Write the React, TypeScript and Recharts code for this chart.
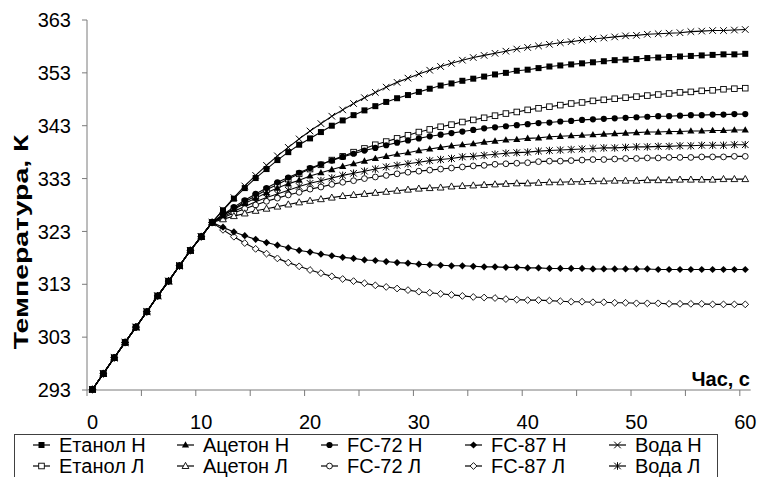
import React from 'react';
import { LineChart, Line, XAxis, YAxis } from 'recharts';

// seconds on the category axis
const seconds = [
  0, 1, 2, 3, 4, 5, 6, 7, 8, 9, 10, 11, 12, 13, 14, 15, 16, 17, 18, 19, 20,
  21, 22, 23, 24, 25, 26, 27, 28, 29, 30, 31, 32, 33, 34, 35, 36, 37, 38, 39, 40,
  41, 42, 43, 44, 45, 46, 47, 48, 49, 50, 51, 52, 53, 54, 55, 56, 57, 58, 59, 60,
];

// common heating part, t = 0..11
const rise = [293.1, 296.1, 299.1, 302.0, 304.9, 307.8, 310.8, 313.6, 316.5, 319.4, 322.0, 324.7];

// t = 12..60 for each fluid
const etanolN = [327.0, 329.2, 331.2, 333.1, 334.8, 336.5, 338.0, 339.4, 340.6, 341.8, 343.0, 344.0, 345.0, 345.9, 346.7, 347.5, 348.2, 348.8, 349.4, 350.0, 350.6, 351.0, 351.5, 351.9, 352.3, 352.7, 353.0, 353.4, 353.6, 353.9, 354.2, 354.4, 354.6, 354.8, 355.0, 355.2, 355.4, 355.5, 355.6, 355.8, 355.9, 356.0, 356.1, 356.2, 356.3, 356.4, 356.5, 356.5, 356.6];
const acetonN = [326.0, 327.2, 328.3, 329.3, 330.3, 331.2, 332.0, 332.7, 333.5, 334.1, 334.7, 335.3, 335.8, 336.3, 336.8, 337.2, 337.6, 337.9, 338.3, 338.6, 338.9, 339.2, 339.4, 339.6, 339.9, 340.1, 340.3, 340.4, 340.6, 340.7, 340.9, 341.0, 341.1, 341.2, 341.3, 341.4, 341.5, 341.6, 341.7, 341.8, 341.8, 341.9, 341.9, 342.0, 342.0, 342.1, 342.1, 342.2, 342.2];
const fc72N = [326.2, 327.6, 328.9, 330.1, 331.2, 332.3, 333.2, 334.1, 335.0, 335.7, 336.4, 337.1, 337.7, 338.3, 338.8, 339.3, 339.8, 340.2, 340.6, 341.0, 341.3, 341.6, 341.9, 342.2, 342.5, 342.7, 342.9, 343.1, 343.3, 343.5, 343.6, 343.8, 343.9, 344.1, 344.2, 344.3, 344.4, 344.5, 344.6, 344.7, 344.8, 344.8, 344.9, 345.0, 345.0, 345.1, 345.1, 345.2, 345.2];
const fc87N = [323.8, 322.9, 322.2, 321.5, 320.9, 320.4, 319.9, 319.4, 319.1, 318.7, 318.4, 318.1, 317.9, 317.6, 317.5, 317.3, 317.1, 317.0, 316.8, 316.7, 316.6, 316.5, 316.5, 316.4, 316.3, 316.3, 316.2, 316.2, 316.1, 316.1, 316.0, 316.0, 316.0, 316.0, 315.9, 315.9, 315.9, 315.9, 315.9, 315.9, 315.8, 315.8, 315.8, 315.8, 315.8, 315.8, 315.8, 315.8, 315.8];
const vodaN = [327.1, 329.4, 331.6, 333.6, 335.5, 337.3, 338.9, 340.5, 342.0, 343.4, 344.8, 346.0, 347.2, 348.3, 349.3, 350.3, 351.2, 352.0, 352.8, 353.5, 354.2, 354.8, 355.4, 355.9, 356.3, 356.7, 357.1, 357.5, 357.8, 358.1, 358.4, 358.7, 358.9, 359.2, 359.4, 359.6, 359.8, 360.0, 360.1, 360.3, 360.4, 360.5, 360.6, 360.8, 360.9, 361.0, 361.0, 361.1, 361.2];
const etanolL = [326.1, 327.3, 328.6, 329.7, 330.9, 331.9, 332.9, 333.9, 334.8, 335.6, 336.5, 337.2, 338.0, 338.7, 339.4, 340.0, 340.6, 341.2, 341.8, 342.3, 342.8, 343.2, 343.7, 344.1, 344.5, 344.9, 345.3, 345.6, 346.0, 346.3, 346.6, 346.9, 347.2, 347.4, 347.7, 347.9, 348.1, 348.3, 348.5, 348.7, 348.9, 349.1, 349.3, 349.4, 349.6, 349.7, 349.9, 350.0, 350.1];
const acetonL = [325.3, 325.9, 326.4, 326.9, 327.3, 327.7, 328.1, 328.5, 328.8, 329.1, 329.4, 329.7, 329.9, 330.1, 330.3, 330.5, 330.7, 330.9, 331.1, 331.2, 331.3, 331.5, 331.6, 331.7, 331.8, 331.9, 332.0, 332.1, 332.1, 332.2, 332.3, 332.3, 332.4, 332.4, 332.5, 332.5, 332.6, 332.6, 332.6, 332.7, 332.7, 332.7, 332.8, 332.8, 332.8, 332.8, 332.9, 332.9, 332.9];
const fc72L = [325.6, 326.5, 327.3, 328.0, 328.7, 329.3, 329.9, 330.4, 331.0, 331.4, 331.9, 332.3, 332.6, 333.0, 333.3, 333.6, 333.9, 334.2, 334.4, 334.6, 334.8, 335.0, 335.2, 335.4, 335.5, 335.7, 335.8, 335.9, 336.0, 336.2, 336.3, 336.3, 336.4, 336.5, 336.6, 336.6, 336.7, 336.8, 336.8, 336.9, 336.9, 337.0, 337.0, 337.0, 337.1, 337.1, 337.1, 337.2, 337.2];
const fc87L = [323.3, 322.0, 320.8, 319.7, 318.8, 317.9, 317.1, 316.4, 315.7, 315.1, 314.5, 314.0, 313.6, 313.2, 312.8, 312.5, 312.2, 311.9, 311.6, 311.4, 311.2, 311.0, 310.8, 310.6, 310.5, 310.4, 310.2, 310.1, 310.0, 310.0, 309.9, 309.8, 309.7, 309.7, 309.6, 309.6, 309.5, 309.5, 309.4, 309.4, 309.4, 309.3, 309.3, 309.3, 309.3, 309.2, 309.2, 309.2, 309.2];
const vodaL = [325.8, 326.8, 327.7, 328.6, 329.4, 330.1, 330.8, 331.5, 332.1, 332.6, 333.1, 333.6, 334.0, 334.4, 334.8, 335.2, 335.5, 335.8, 336.1, 336.4, 336.6, 336.8, 337.1, 337.2, 337.4, 337.6, 337.8, 337.9, 338.0, 338.2, 338.3, 338.4, 338.5, 338.6, 338.7, 338.8, 338.8, 338.9, 339.0, 339.0, 339.1, 339.1, 339.2, 339.2, 339.3, 339.3, 339.3, 339.4, 339.4];

const yTicks = [293, 303, 313, 323, 333, 343, 353, 363];
const xLabels = [0, 10, 20, 30, 40, 50, 60];
const xTickMarks = [-0.5, 4.5, 9.5, 14.5, 19.5, 24.5, 29.5, 34.5, 39.5, 44.5, 49.5, 54.5, 59.5];

// legend order (row by row)
const series = [
  { key: 'etanolN', name: 'Етанол Н', values: etanolN, shape: 'square' },
  { key: 'acetonN', name: 'Ацетон Н', values: acetonN, shape: 'triangle' },
  { key: 'fc72N', name: 'FC-72 Н', values: fc72N, shape: 'circle' },
  { key: 'fc87N', name: 'FC-87 Н', values: fc87N, shape: 'diamond' },
  { key: 'vodaN', name: 'Вода Н', values: vodaN, shape: 'cross' },
  { key: 'etanolL', name: 'Етанол Л', values: etanolL, shape: 'squareOpen' },
  { key: 'acetonL', name: 'Ацетон Л', values: acetonL, shape: 'triangleOpen' },
  { key: 'fc72L', name: 'FC-72 Л', values: fc72L, shape: 'circleOpen' },
  { key: 'fc87L', name: 'FC-87 Л', values: fc87L, shape: 'diamondOpen' },
  { key: 'vodaL', name: 'Вода Л', values: vodaL, shape: 'star' },
];

const rows = seconds.map((t, i) => {
  const row: Record<string, number> = { t };
  series.forEach((s) => {
    row[s.key] = i < rise.length ? rise[i] : s.values[i - rise.length];
  });
  return row;
});

const FONT = '"Liberation Sans", Arial, sans-serif';
const AXIS = '#7a7a7a';

const Marker = ({ cx, cy, shape }: { cx: number; cy: number; shape: string }) => {
  const sw = 0.9;
  switch (shape) {
    case 'square':
      return <rect x={cx - 3} y={cy - 3} width={6} height={6} fill="#000" />;
    case 'squareOpen':
      return <rect x={cx - 2.8} y={cy - 2.8} width={5.6} height={5.6} fill="#fff" stroke="#000" strokeWidth={sw} />;
    case 'triangle':
      return <polygon points={`${cx},${cy - 3.8} ${cx + 3.6},${cy + 2.6} ${cx - 3.6},${cy + 2.6}`} fill="#000" />;
    case 'triangleOpen':
      return <polygon points={`${cx},${cy - 3.6} ${cx + 3.4},${cy + 2.5} ${cx - 3.4},${cy + 2.5}`} fill="#fff" stroke="#000" strokeWidth={sw} />;
    case 'circle':
      return <circle cx={cx} cy={cy} r={3.1} fill="#000" />;
    case 'circleOpen':
      return <circle cx={cx} cy={cy} r={2.9} fill="#fff" stroke="#000" strokeWidth={sw} />;
    case 'diamond':
      return <polygon points={`${cx},${cy - 3.6} ${cx + 3.6},${cy} ${cx},${cy + 3.6} ${cx - 3.6},${cy}`} fill="#000" />;
    case 'diamondOpen':
      return <polygon points={`${cx},${cy - 3.4} ${cx + 3.4},${cy} ${cx},${cy + 3.4} ${cx - 3.4},${cy}`} fill="#fff" stroke="#000" strokeWidth={sw} />;
    case 'cross':
      return (
        <g stroke="#000" strokeWidth={1}>
          <line x1={cx - 3.3} y1={cy - 3.3} x2={cx + 3.3} y2={cy + 3.3} />
          <line x1={cx - 3.3} y1={cy + 3.3} x2={cx + 3.3} y2={cy - 3.3} />
        </g>
      );
    default:
      return (
        <g stroke="#000" strokeWidth={1}>
          <line x1={cx - 3.3} y1={cy - 3.3} x2={cx + 3.3} y2={cy + 3.3} />
          <line x1={cx - 3.3} y1={cy + 3.3} x2={cx + 3.3} y2={cy - 3.3} />
          <line x1={cx} y1={cy - 3.8} x2={cx} y2={cy + 3.8} />
        </g>
      );
  }
};

const XTick = (props: any) => {
  const { x, y, payload } = props;
  const v = payload.value;
  if (Number.isInteger(v)) {
    return (
      <text x={x} y={y + 39} textAnchor="middle" fontSize={20} fontFamily={FONT} fill="#000">
        {v}
      </text>
    );
  }
  return <line x1={x} x2={x} y1={y} y2={y + 6} stroke={AXIS} />;
};

const legendCols = [33, 177, 321, 465, 609];
const legendRows = [445, 466];

const LegendBox = () => (
  <svg width={767} height={477} style={{ position: 'absolute', left: 0, top: 0, pointerEvents: 'none' }}>
    <rect x={14.5} y={434.5} width={703} height={60} fill="#fff" stroke="#404040" strokeWidth={1} />
    {series.map((s, i) => {
      const lx = legendCols[i % 5];
      const ly = legendRows[Math.floor(i / 5)];
      return (
        <g key={s.key}>
          <line x1={lx} x2={lx + 17} y1={ly} y2={ly} stroke="#000" strokeWidth={1.2} />
          <Marker cx={lx + 8.5} cy={ly} shape={s.shape} />
          <text x={lx + 26} y={ly + 7} fontSize={20} fontFamily={FONT} fill="#000">
            {s.name}
          </text>
        </g>
      );
    })}
  </svg>
);

// Н series drawn last so the filled squares sit on top of the shared start
const drawOrder = [...series.slice(5).reverse(), ...series.slice(0, 5).reverse()];

export default function App() {
  return (
    <div style={{ position: 'absolute', left: 0, top: 0, width: 767, height: 477, overflow: 'hidden', background: '#fff' }}>
      <LineChart width={767} height={477} data={rows} margin={{ top: 20, right: 16.3, left: 0, bottom: 0 }}>
        <XAxis
          dataKey="t"
          type="number"
          domain={[-0.5, 60.5]}
          ticks={[...xTickMarks, ...xLabels].sort((a, b) => a - b)}
          interval={0}
          tick={<XTick />}
          tickLine={false}
          tickSize={0}
          tickMargin={0}
          height={87}
          axisLine={{ stroke: AXIS }}
          label={{
            content: () => (
              <text x={750} y={386} textAnchor="end" fontSize={20} fontWeight="bold" fontFamily={FONT} fill="#000">
                Час, с
              </text>
            ),
          }}
        />
        <YAxis
          type="number"
          domain={[293, 363]}
          ticks={yTicks}
          interval={0}
          width={87}
          tickSize={5}
          tickMargin={11}
          axisLine={{ stroke: AXIS }}
          tickLine={{ stroke: AXIS }}
          tick={{ fontSize: 20, fontFamily: FONT, fill: '#000' }}
          label={{
            content: () => (
              <text
                x={0}
                y={0}
                transform="translate(28 242) rotate(-90) scale(1.42 1)"
                textAnchor="middle"
                fontSize={20}
                fontWeight="bold"
                fontFamily={FONT}
                fill="#000"
              >
                Температура, К
              </text>
            ),
          }}
        />
        {drawOrder.map((s) => (
          <Line
            key={s.key}
            dataKey={s.key}
            name={s.name}
            type="linear"
            stroke="#000"
            strokeWidth={1.1}
            isAnimationActive={false}
            dot={(p: any) => <Marker key={`${s.key}-${p.index}`} cx={p.cx} cy={p.cy} shape={s.shape} />}
            activeDot={false}
          />
        ))}
      </LineChart>
      <LegendBox />
    </div>
  );
}
